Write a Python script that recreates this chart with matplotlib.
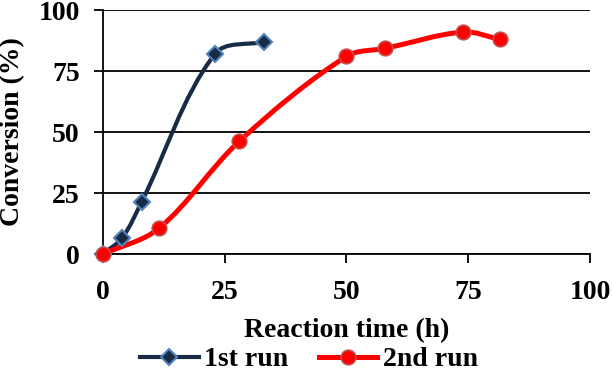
import numpy as np
import matplotlib.pyplot as plt
from matplotlib.path import Path
from matplotlib.patches import PathPatch
from matplotlib.lines import Line2D

plt.rcParams['font.family'] = 'Liberation Serif'
plt.rcParams['font.weight'] = 'bold'

run1_t = [0, 4, 8, 23, 33]
run1_conv = [0, 6.7, 21.5, 82, 87]
run2_t = [0, 11.5, 28, 50, 58, 74, 81.5]
run2_conv = [0, 10.5, 46.2, 81, 84.3, 91, 88]

navy = '#172B45'
navy_edge = '#4F81BD'
red = '#FF0000'
red_edge = '#C0504D'

# rough pixel scale of the axes, so smoothing works in screen space
SX, SY = 4.87, 2.44


def smooth_path(x, y):
    # Excel-like smoothed line: bezier with tangents from neighbours,
    # handle length a third of each segment
    pts = np.column_stack([np.asarray(x, float) * SX, np.asarray(y, float) * SY])
    n = len(pts)
    tang = []
    for i in range(n):
        a = pts[max(i - 1, 0)]
        b = pts[min(i + 1, n - 1)]
        d = b - a
        tang.append(d / np.hypot(*d))
    verts = [pts[0]]
    codes = [Path.MOVETO]
    for i in range(n - 1):
        p1, p2 = pts[i], pts[i + 1]
        L = np.hypot(*(p2 - p1)) / 3
        verts += [p1 + tang[i] * L, p2 - tang[i + 1] * L, p2]
        codes += [Path.CURVE4] * 3
    verts = np.array(verts) / [SX, SY]
    return Path(verts, codes)


fig = plt.figure(figsize=(6.12, 3.72), dpi=100)
ax = fig.add_axes([0.168, 0.317, 0.796, 0.656])

ax.add_patch(PathPatch(smooth_path(run1_t, run1_conv), fill=False,
                       edgecolor=navy, lw=3, zorder=3))
ax.add_patch(PathPatch(smooth_path(run2_t, run2_conv), fill=False,
                       edgecolor=red, lw=3.6, zorder=3))
ax.plot(run1_t, run1_conv, ls='none', marker='D', ms=8.5, mfc=navy,
        mec=navy_edge, mew=1.5, zorder=4, clip_on=False)
ax.plot(run2_t, run2_conv, ls='none', marker='o', ms=10.5, mfc=red,
        mec=red_edge, mew=1.2, zorder=4, clip_on=False)

ax.set_xlim(0, 100)
ax.set_ylim(0, 100)
ax.set_xticks([0, 25, 50, 75, 100])
ax.set_yticks([0, 25, 50, 75, 100])
ax.grid(axis='y', color='black', lw=1.3)
ax.set_axisbelow(True)
for s in ['top', 'right']:
    ax.spines[s].set_visible(False)
for s in ['left', 'bottom']:
    ax.spines[s].set_linewidth(1.3)
ax.tick_params(axis='x', length=6.5, width=1.3, labelsize=20, pad=12)
ax.tick_params(axis='y', length=6.5, width=1.3, labelsize=20, pad=10)
for lab in ax.get_xticklabels() + ax.get_yticklabels():
    lab.set_fontweight('bold')

fig.text(0.566, 0.095, 'Reaction time (h)', fontsize=20, fontweight='bold',
         ha='center', va='baseline')
fig.text(0.0, 0.645, 'Conversion (%)', fontsize=20, fontweight='bold',
         rotation=90, ha='left', va='center')

handles = [
    Line2D([], [], color=navy, lw=3, marker='D', ms=8.5, mfc=navy,
           mec=navy_edge, mew=1.5),
    Line2D([], [], color=red, lw=3.6, marker='o', ms=10.5, mfc=red,
           mec=red_edge, mew=1.2),
]
fig.legend(handles, ['1st run', '2nd run'], loc='lower center',
           bbox_to_anchor=(0.505, -0.038), ncol=2, frameon=False,
           prop={'size': 20, 'weight': 'bold'}, handlelength=2.1,
           handletextpad=0.2, columnspacing=1.1, borderpad=0.0)

fig.savefig('out.png', dpi=100)
